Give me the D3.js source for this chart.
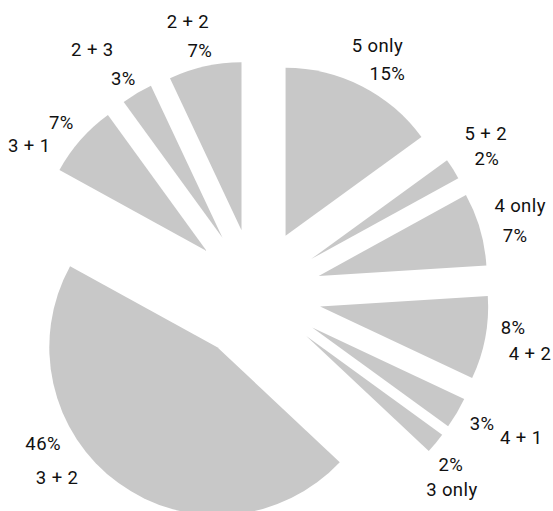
<!DOCTYPE html>
<html>
<head>
<meta charset="utf-8">
<script src="https://cdn.jsdelivr.net/npm/d3@7"></script>
<style>
  html, body { margin: 0; padding: 0; background: #fff; }
  svg { display: block; }
  text { font-family: Roboto, "Noto Sans", sans-serif; font-size: 18.5px; letter-spacing: 0.4px; fill: #111; }
</style>
</head>
<body>
<svg id="chart" width="553" height="511"></svg>
<script>
// ---- data ----
const categories = ["5 only", "5 + 2", "4 only", "4 + 2", "4 + 1", "3 only", "3 + 2", "3 + 1", "2 + 3", "2 + 2"];
const shares = [15, 2, 7, 8, 3, 2, 46, 7, 3, 7];
const percentLabels = ["15%", "2%", "7%", "8%", "3%", "2%", "46%", "7%", "3%", "7%"];

// ---- layout (not data) ----
const W = 553, H = 511;
const cx = 255.8, cy = 294.2;
const radius = 168, explode = 65.5, labelRadius = 270;
// small nudges of each label pair from its anchor: [pctDx, pctDy, nameDx, nameDy] (baseline)
const labelNudge = [
  [9, 26, -1, -2],
  [3, 15, 2, -10],
  [0, 23, 5, -7],
  [-8, -11, 9, 15],
  [-6, -2, 33, 12],
  [-13, 5, -12, 30],
  [-54, -63, -40, -29],
  [8, 13, -24, 36],
  [5, 23, -26, -6],
  [3, 26, -9, -3]
];

const svg = d3.select("#chart");
const g = svg.append("g").attr("transform", `translate(${cx},${cy})`);

const pie = d3.pie().sort(null).value(d => d).startAngle(0).endAngle(2 * Math.PI);
const arcs = pie(shares);
const arc = d3.arc().innerRadius(0).outerRadius(radius);

function dir(a) { return [Math.sin(a), -Math.cos(a)]; }

g.selectAll("path.slice")
  .data(arcs)
  .join("path")
  .attr("class", "slice")
  .attr("fill", "#c8c8c8")
  .attr("transform", d => {
    const [dx, dy] = dir((d.startAngle + d.endAngle) / 2);
    return `translate(${dx * explode},${dy * explode})`;
  })
  .attr("d", arc);

const labels = g.selectAll("g.lab")
  .data(arcs)
  .join("g")
  .attr("class", "lab")
  .attr("transform", d => {
    const [dx, dy] = dir((d.startAngle + d.endAngle) / 2);
    return `translate(${dx * labelRadius},${dy * labelRadius})`;
  });

labels.append("text")
  .attr("text-anchor", "middle")
  .attr("x", (d, i) => labelNudge[i][0])
  .attr("y", (d, i) => labelNudge[i][1])
  .text((d, i) => percentLabels[i]);

labels.append("text")
  .attr("text-anchor", "middle")
  .attr("x", (d, i) => labelNudge[i][2])
  .attr("y", (d, i) => labelNudge[i][3])
  .text((d, i) => categories[i]);
</script>
</body>
</html>
